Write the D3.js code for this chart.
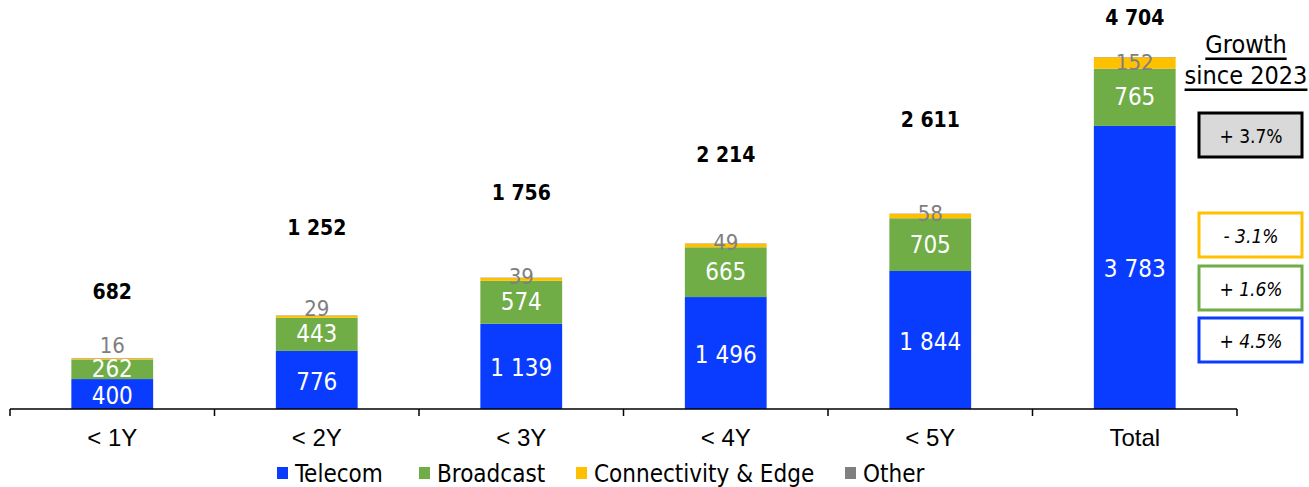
<!DOCTYPE html>
<html>
<head>
<meta charset="utf-8">
<script src="https://cdn.jsdelivr.net/npm/d3@7"></script>
<style>
  body { margin: 0; background: #fff; }
  svg { display: block; font-family: "DejaVu Sans Condensed", "DejaVu Sans", sans-serif; font-stretch: condensed; }
</style>
</head>
<body>
<div class="canvas"></div>
<script>
// data
var categories = ["< 1Y", "< 2Y", "< 3Y", "< 4Y", "< 5Y", "Total"];
var telecom = [400, 776, 1139, 1496, 1844, 3783];
var broadcast = [262, 443, 574, 665, 705, 765];
var connectivity = [16, 29, 39, 49, 58, 152];
var other = [4, 4, 4, 4, 4, 4];
var totals = [682, 1252, 1756, 2214, 2611, 4704];
var seriesNames = ["Telecom", "Broadcast", "Connectivity & Edge", "Other"];
var growthLabels = ["+ 3.7%", "- 3.1%", "+ 1.6%", "+ 4.5%"];

var colors = ["#0a3cff", "#70ad47", "#ffc000", "#808080"];

var W = 1309, H = 487;
var svg = d3.select(".canvas").append("svg").attr("width", W).attr("height", H);

var rows = categories.map(function(c, i) {
  return { cat: c, Telecom: telecom[i], Broadcast: broadcast[i], "Connectivity & Edge": connectivity[i], Other: other[i], total: totals[i] };
});
var stacked = d3.stack().keys(seriesNames)(rows);

var x = d3.scaleBand().domain(categories).range([10, 1237]).paddingInner(0.6).paddingOuter(0.3);
var y = d3.scaleLinear().domain([0, d3.max(totals)]).range([409, 57]);

// bars
svg.append("g").selectAll("g")
  .data(stacked)
  .enter().append("g")
  .attr("fill", function(d, i) { return colors[i]; })
  .selectAll("rect")
  .data(function(d) { return d; })
  .enter().append("rect")
  .attr("x", function(d) { return x(d.data.cat); })
  .attr("width", x.bandwidth())
  .attr("y", function(d) { return y(d[1]); })
  .attr("height", function(d) { return y(d[0]) - y(d[1]); });

// white values in blue and green segments
var segNudge = [2, 0];
[0, 1].forEach(function(k) {
  svg.append("g").selectAll("text")
    .data(stacked[k])
    .enter().append("text")
    .attr("x", function(d) { return x(d.data.cat) + x.bandwidth() / 2; })
    .attr("y", function(d) { return (y(d[0]) + y(d[1])) / 2 + segNudge[k]; })
    .attr("text-anchor", "middle")
    .attr("dominant-baseline", "central")
    .attr("fill", "#fff")
    .style("font-size", "24px")
    .text(function(d) { return d3.format(",")(d[1] - d[0]).replace(/,/g, " "); });
});

// grey connectivity labels
var connLift = [13, 7, 1, 1, 0, -5];
svg.append("g").selectAll("text")
  .data(stacked[2])
  .enter().append("text")
  .attr("x", function(d) { return x(d.data.cat) + x.bandwidth() / 2; })
  .attr("y", function(d, i) { return y(d[1]) - connLift[i]; })
  .attr("text-anchor", "middle")
  .attr("dominant-baseline", "central")
  .attr("fill", "#7f7f7f")
  .style("font-size", "22px")
  .text(function(d) { return d[1] - d[0]; });

// totals
var totalLift = [66, 87, 85, 88, 94, 39];
svg.append("g").selectAll("text")
  .data(rows)
  .enter().append("text")
  .attr("x", function(d) { return x(d.cat) + x.bandwidth() / 2; })
  .attr("y", function(d, i) { return y(d.total) - totalLift[i]; })
  .attr("text-anchor", "middle")
  .attr("dominant-baseline", "central")
  .style("font-size", "21px")
  .style("font-weight", "bold")
  .text(function(d) { return d3.format(",")(d.total).replace(/,/g, " "); });

// axis: line with ticks on category boundaries
var axisG = svg.append("g").attr("transform", "translate(0,409)");
axisG.append("line").attr("x1", x.range()[0]).attr("x2", x.range()[1])
  .attr("stroke", "#000").attr("stroke-width", 1.5);
axisG.selectAll(".bound")
  .data(d3.range(categories.length + 1))
  .enter().append("line")
  .attr("x1", function(i) { return x.range()[0] + i * x.step(); })
  .attr("x2", function(i) { return x.range()[0] + i * x.step(); })
  .attr("y1", 0).attr("y2", 7)
  .attr("stroke", "#000").attr("stroke-width", 1.5);

var xAxis = d3.axisBottom(x).tickSize(0).tickPadding(20);
var labels = svg.append("g").attr("transform", "translate(0,409)").call(xAxis);
labels.select(".domain").remove();
labels.selectAll("text").style("font-size", "24px").style("font-family", null).attr("fill", "#000");

// legend
var legendX = [277, 419, 576, 845];
var legend = svg.append("g").selectAll("g")
  .data(seriesNames)
  .enter().append("g")
  .attr("transform", function(d, i) { return "translate(" + legendX[i] + ",473)"; });
legend.append("rect").attr("x", 0).attr("y", -6).attr("width", 11).attr("height", 12)
  .attr("fill", function(d, i) { return colors[i]; });
legend.append("text").attr("x", 18).attr("y", 1).attr("dominant-baseline", "central")
  .style("font-size", "24px").text(function(d) { return d; });

// growth panel
var head = svg.append("g").attr("text-anchor", "middle").style("font-size", "25px");
head.append("text").attr("x", 1246).attr("y", 44).attr("dominant-baseline", "central")
  .style("text-decoration", "underline").text("Growth");
head.append("text").attr("x", 1246).attr("y", 75).attr("dominant-baseline", "central")
  .style("text-decoration", "underline").text("since 2023");

var boxY = [113, 213, 266, 318];
var boxStroke = ["#000", colors[2], colors[1], colors[0]];
var boxes = svg.append("g").selectAll("g")
  .data(growthLabels)
  .enter().append("g")
  .attr("transform", function(d, i) { return "translate(1199," + boxY[i] + ")"; });
boxes.append("rect").attr("width", 103).attr("height", 44)
  .attr("fill", function(d, i) { return i === 0 ? "#d9d9d9" : "#fff"; })
  .attr("stroke", function(d, i) { return boxStroke[i]; })
  .attr("stroke-width", 3);
boxes.append("text").attr("x", 52).attr("y", 23)
  .attr("text-anchor", "middle").attr("dominant-baseline", "central")
  .style("font-size", "19px")
  .style("font-style", function(d, i) { return i === 0 ? "normal" : "italic"; })
  .text(function(d) { return d; });
</script>
</body>
</html>
